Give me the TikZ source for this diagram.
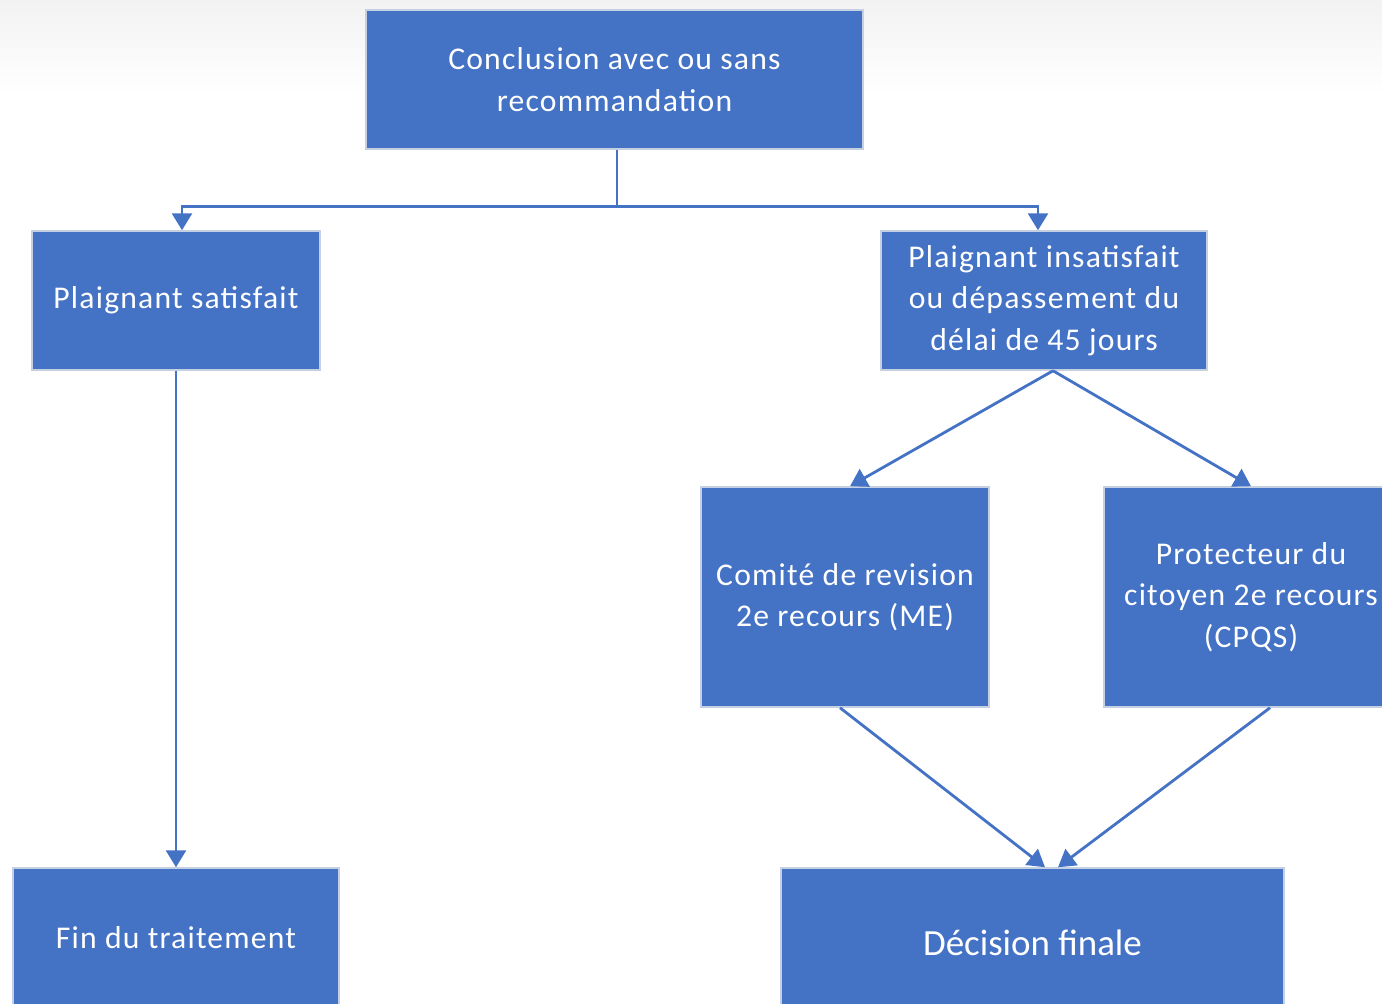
\documentclass[tikz,border=0pt]{standalone}
\usepackage{fontspec}
\setmainfont{Carlito}
\newfontfamily\boxfont[LetterSpace=3.8]{Carlito}
\usetikzlibrary{arrows.meta}
\definecolor{boxblue}{HTML}{4472C4}
\definecolor{boxedge}{HTML}{C5D0E3}
\begin{document}
\begin{tikzpicture}[x=0.01cm,y=-0.01cm,
	box/.style={rectangle,fill=boxblue,draw=boxedge,line width=0.4pt,
		text=white,align=center,inner sep=0pt,
		font=\boxfont\fontsize{9}{11.8}\selectfont},
	link/.style={draw=boxblue,line width=0.8pt,
		-{Triangle[width=0.2cm,length=0.17cm]}}]
\useasboundingbox (0,0) rectangle (1382,1003);
% faint band at the top
\shade[top color=black!5,bottom color=white] (0,0) rectangle (1382,95);

\node[box,minimum width=4.97cm,minimum height=1.39cm] (concl) at (614.5,79.5)
	{Conclusion avec ou sans\\recommandation};
\node[box,minimum width=2.88cm,minimum height=1.39cm] (satisf) at (176,300.5)
	{Plaignant satisfait};
\node[box,minimum width=3.26cm,minimum height=1.39cm] (insatisf) at (1044,300.5)
	{Plaignant insatisfait\\ou dépassement du\\délai de 45 jours};
\node[box,minimum width=2.88cm,minimum height=2.20cm] (comite) at (845,597)
	{Comité de revision\\2e recours (ME)};
\node[box,minimum width=2.94cm,minimum height=2.20cm] (protect) at (1251,597)
	{Protecteur du\\citoyen 2e recours\\(CPQS)};
\node[box,minimum width=3.26cm,minimum height=1.40cm] (fin) at (176,938)
	{Fin du traitement};
\node[box,minimum width=5.03cm,minimum height=1.50cm,
	font=\fontsize{10.5}{13}\selectfont] (decision) at (1032.5,943)
	{Décision finale};

% connectors
\draw[link] ([xshift=0.025cm]concl.south) -- ++(0,57) -| ([xshift=0.06cm]satisf.north);
\draw[link] ([xshift=0.025cm]concl.south) -- ++(0,57) -| ([xshift=-0.06cm]insatisf.north);
\draw[link] (satisf.south) -- (fin.north);
\draw[link] ([xshift=0.09cm]insatisf.south) -- ([xshift=0.05cm]comite.north);
\draw[link] ([xshift=0.09cm]insatisf.south) -- (protect.north);
\draw[link] ([xshift=-0.05cm]comite.south) -- ([xshift=0.125cm]decision.north);
\draw[link] ([xshift=0.19cm]protect.south) -- ([xshift=0.255cm]decision.north);
\end{tikzpicture}
\end{document}
